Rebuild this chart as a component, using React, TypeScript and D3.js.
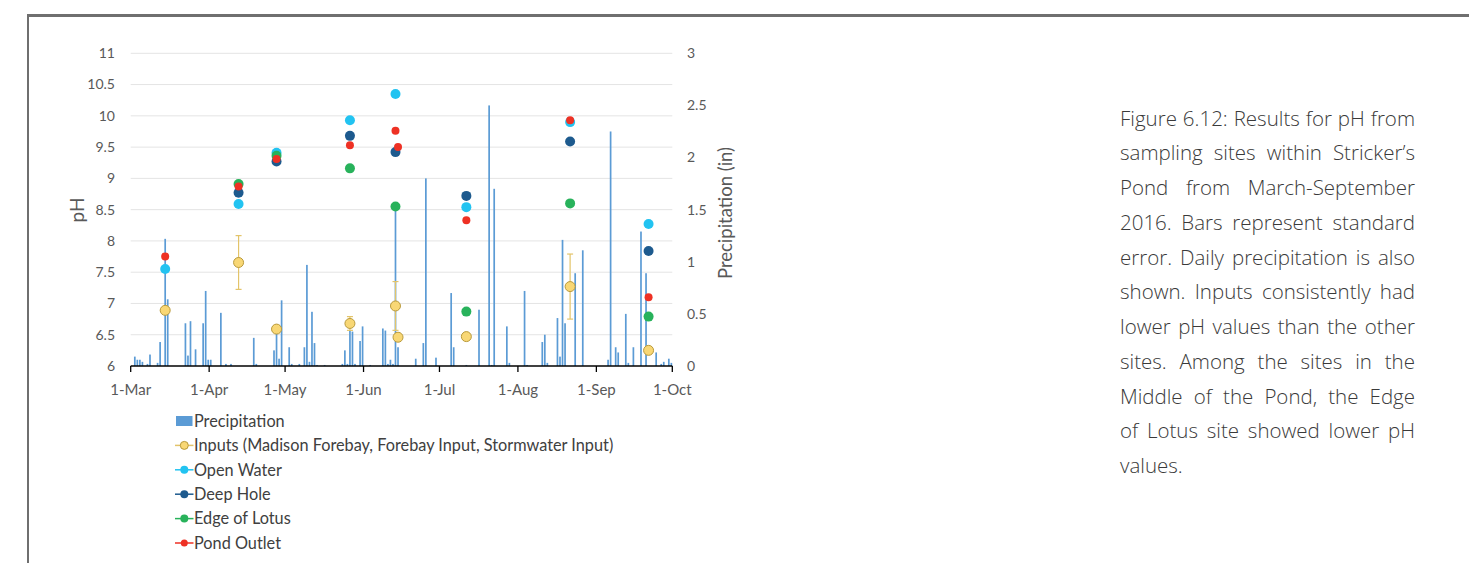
import React from 'react';
import * as d3 from 'd3';

const W = 1469;
const H = 563;

const monthTickDates = ['2016-03-01', '2016-04-01', '2016-05-01', '2016-06-01', '2016-07-01', '2016-08-01', '2016-09-01', '2016-10-01'];
const monthTickLabels = ['1-Mar', '1-Apr', '1-May', '1-Jun', '1-Jul', '1-Aug', '1-Sep', '1-Oct'];
const phTicks = [6, 6.5, 7, 7.5, 8, 8.5, 9, 9.5, 10, 10.5, 11];
const phTickLabels = ['6', '6.5', '7', '7.5', '8', '8.5', '9', '9.5', '10', '10.5', '11'];
const precipTicks = [0, 0.5, 1, 1.5, 2, 2.5, 3];
const precipTickLabels = ['0', '0.5', '1', '1.5', '2', '2.5', '3'];

const precipDates = [
  '2016-03-02', '2016-03-03', '2016-03-04', '2016-03-05', '2016-03-07', '2016-03-08', '2016-03-11', '2016-03-12', '2016-03-14', '2016-03-15',
  '2016-03-22', '2016-03-23', '2016-03-24', '2016-03-26', '2016-03-29', '2016-03-30', '2016-03-31', '2016-04-01', '2016-04-05', '2016-04-07',
  '2016-04-09', '2016-04-18', '2016-04-19', '2016-04-26', '2016-04-27', '2016-04-28', '2016-04-29', '2016-05-02', '2016-05-03', '2016-05-06',
  '2016-05-08', '2016-05-09', '2016-05-10', '2016-05-11', '2016-05-12', '2016-05-13', '2016-05-16', '2016-05-23', '2016-05-24', '2016-05-25',
  '2016-05-26', '2016-05-27', '2016-05-28', '2016-05-30', '2016-05-31', '2016-06-03', '2016-06-08', '2016-06-09', '2016-06-10', '2016-06-11',
  '2016-06-12', '2016-06-13', '2016-06-14', '2016-06-21', '2016-06-24', '2016-06-25', '2016-06-29', '2016-07-05', '2016-07-06', '2016-07-11',
  '2016-07-16', '2016-07-20', '2016-07-21', '2016-07-22', '2016-07-27', '2016-07-28', '2016-08-03', '2016-08-04', '2016-08-10', '2016-08-11',
  '2016-08-12', '2016-08-16', '2016-08-17', '2016-08-18', '2016-08-19', '2016-08-23', '2016-08-26', '2016-09-05', '2016-09-06', '2016-09-08',
  '2016-09-09', '2016-09-12', '2016-09-13', '2016-09-15', '2016-09-18', '2016-09-20', '2016-09-24', '2016-09-26', '2016-09-27', '2016-09-29',
  '2016-09-30',
];
const precipValues = [
  0.09, 0.06, 0.06, 0.04, 0.02, 0.11, 0.03, 0.23, 1.22, 0.64,
  0.41, 0.10, 0.43, 0.16, 0.41, 0.72, 0.06, 0.06, 0.51, 0.02,
  0.02, 0.27, 0.02, 0.15, 0.38, 0.07, 0.63, 0.18, 0.02, 0.02,
  0.18, 0.97, 0.04, 0.52, 0.22, 0.01, 0.01, 0.02, 0.15, 0.02,
  0.34, 0.33, 0.02, 0.24, 0.38, 0.01, 0.36, 0.34, 0.02, 0.06,
  0.02, 1.53, 0.18, 0.07, 0.22, 1.80, 0.08, 0.70, 0.18, 0.01,
  0.54, 2.50, 0.01, 1.70, 0.38, 0.03, 0.72, 0.01, 0.23, 0.30,
  0.03, 0.46, 0.09, 1.21, 0.41, 0.89, 1.11, 0.06, 2.25, 0.18,
  0.13, 0.50, 0.03, 0.18, 1.29, 0.89, 0.13, 0.02, 0.04, 0.07,
  0.03,
];

const sampleDates = ['2016-03-14', '2016-04-12', '2016-04-27', '2016-05-26', '2016-06-13', '2016-06-14', '2016-07-11', '2016-08-21', '2016-09-21'];
const inputsPH = [6.89, 7.655, 6.59, 6.68, 6.96, 6.46, 6.47, 7.27, 6.25];
const inputsSE = [null, 0.43, null, 0.11, 0.39, null, null, 0.52, null];
const openWaterPH = [7.55, 8.59, 9.41, 9.93, 10.35, null, 8.54, 9.90, 8.27];
const deepHolePH = [null, 8.77, 9.27, 9.68, 9.42, null, 8.72, 9.59, 7.84];
const edgeLotusPH = [null, 8.91, 9.36, 9.16, 8.55, null, 6.87, 8.60, 6.79];
const pondOutletPH = [7.75, 8.87, 9.31, 9.53, 9.76, 9.50, 8.33, 9.93, 7.10];

const captionLines = [
  'Figure 6.12: Results for pH from',
  'sampling sites within Stricker’s',
  'Pond from March-September',
  '2016. Bars represent standard',
  'error. Daily precipitation is also',
  'shown. Inputs consistently had',
  'lower pH values than the other',
  'sites. Among the sites in the',
  'Middle of the Pond, the Edge',
  'of Lotus site showed lower pH',
  'values.',
];

const legendLabels = ['Precipitation', 'Inputs (Madison Forebay, Forebay Input, Stormwater Input)', 'Open Water', 'Deep Hole', 'Edge of Lotus', 'Pond Outlet'];

const C = {
  bar: '#5b9bd5',
  inputFill: '#f8d775',
  inputStroke: '#b99a3c',
  inputErr: '#e3c46a',
  open: '#22c3f1',
  deep: '#1d5a8e',
  edge: '#28b25b',
  outlet: '#ee3124',
  grid: '#e4e4e4',
  label: '#595959',
  text: '#404040',
};

const parse = d3.utcParse('%Y-%m-%d');
const AX_FONT = 'Lato, "Open Sans", sans-serif';
const CAP_FONT = '"Open Sans", Lato, sans-serif';
const CAP_WEIGHT = 300;
const CAP_WIDTH = 295;

let _ctx: CanvasRenderingContext2D | null = null;
function measure(text: string, font: string) {
  if (!_ctx) _ctx = document.createElement('canvas').getContext('2d');
  _ctx!.font = font;
  return _ctx!.measureText(text).width;
}

function JustifiedLine({ text, x, y, width, justify, size }: any) {
  const fontStr = `${CAP_WEIGHT} ${size}px ${CAP_FONT}`;
  const words = text.split(' ');
  if (!justify || words.length < 2) {
    return (
      <text x={x} y={y} fontFamily={CAP_FONT} fontSize={size} fontWeight={CAP_WEIGHT} fill="#3a3a3a">{text}</text>
    );
  }
  const widths = words.map((w: string) => measure(w, fontStr));
  const total = widths.reduce((a: number, b: number) => a + b, 0);
  const gap = (width - total) / (words.length - 1);
  let cx = x;
  const out: any[] = [];
  words.forEach((w: string, i: number) => {
    out.push(
      <text key={i} x={cx} y={y} fontFamily={CAP_FONT} fontSize={size} fontWeight={CAP_WEIGHT} fill="#3a3a3a">{w}</text>
    );
    cx += widths[i] + gap;
  });
  return <g>{out}</g>;
}

export default function App() {
  const x = d3.scaleUtc().domain([parse('2016-03-01')!, parse('2016-10-01')!]).range([130.7, 672.3]);
  const xc = (s: string) => x(d3.utcHour.offset(parse(s)!, 15));
  const yPH = d3.scaleLinear().domain([6, 11]).range([366, 53.3]);
  const yP = d3.scaleLinear().domain([0, 3]).range([366, 53.3]);

  const series = [
    { vals: openWaterPH, color: C.open, r: 5 },
    { vals: deepHolePH, color: C.deep, r: 5 },
    { vals: edgeLotusPH, color: C.edge, r: 5 },
    { vals: pondOutletPH, color: C.outlet, r: 4 },
  ];

  const legendX = 176;
  const legendY0 = 421;
  const legendDy = 24.4;
  const legendMarkers = [
    { color: C.inputFill, stroke: C.inputStroke, r: 4, line: C.inputErr },
    { color: C.open, stroke: 'none', r: 4, line: C.open },
    { color: C.deep, stroke: 'none', r: 4, line: C.deep },
    { color: C.edge, stroke: 'none', r: 4, line: C.edge },
    { color: C.outlet, stroke: 'none', r: 3.5, line: C.outlet },
  ];

  // font size chosen so the widest justified line fits the column with normal spacing
  const capSize = Math.min(
    20.5,
    ...captionLines.slice(0, -1).map((l) => (CAP_WIDTH - 2) / measure(l, `${CAP_WEIGHT} 1px ${CAP_FONT}`) / 1)
  );

  return (
    <svg width={W} height={H} style={{ position: 'absolute', left: 0, top: 0, background: '#fff' }}>
      {/* frame */}
      <line x1={28} y1={15.5} x2={W} y2={15.5} stroke="#6f6f6f" strokeWidth={3} />
      <line x1={28} y1={14} x2={28} y2={H} stroke="#6f6f6f" strokeWidth={2} />

      {/* grid */}
      {phTicks.filter((t) => t > 6).map((t) => (
        <line key={t} x1={130.7} x2={672.3} y1={yPH(t)} y2={yPH(t)} stroke={C.grid} strokeWidth={1} />
      ))}

      {/* precipitation bars */}
      {precipDates.map((d, i) => (
        <rect key={d} x={xc(d) - 0.85} width={1.7} y={yP(precipValues[i])} height={yP(0) - yP(precipValues[i])} fill={C.bar} />
      ))}

      {/* x axis */}
      <line x1={130.7} x2={672.3} y1={366} y2={366} stroke="#000" strokeWidth={1.3} />
      {monthTickDates.map((d, i) => {
        const tx = x(parse(d)!);
        return (
          <g key={d}>
            <line x1={tx} x2={tx} y1={366} y2={372} stroke="#000" strokeWidth={1.3} />
            <text x={tx} y={394.5} textAnchor="middle" fontFamily={AX_FONT} fontSize={15} fill={C.label}>{monthTickLabels[i]}</text>
          </g>
        );
      })}

      {/* left axis labels */}
      {phTicks.map((t, i) => (
        <text key={t} x={115} y={yPH(t)} dy="0.35em" textAnchor="end" fontFamily={AX_FONT} fontSize={14} fill={C.label}>{phTickLabels[i]}</text>
      ))}
      {/* right axis labels */}
      {precipTicks.map((t, i) => (
        <text key={t} x={687} y={yP(t)} dy="0.35em" textAnchor="start" fontFamily={AX_FONT} fontSize={14} fill={C.label}>{precipTickLabels[i]}</text>
      ))}
      <text transform={`translate(84,${210}) rotate(-90)`} textAnchor="middle" fontFamily={AX_FONT} fontSize={19} fill={C.label}>pH</text>
      <text transform={`translate(732,${213}) rotate(-90)`} textAnchor="middle" fontFamily={AX_FONT} fontSize={18.5} fill={C.label}>Precipitation (in)</text>

      {/* input error bars */}
      {sampleDates.map((d, i) => {
        const se = inputsSE[i];
        if (se == null) return null;
        const cx = xc(d);
        const v = inputsPH[i];
        return (
          <g key={'e' + d} stroke={C.inputErr} strokeWidth={1.2}>
            <line x1={cx} x2={cx} y1={yPH(v + se)} y2={yPH(v - se)} />
            <line x1={cx - 3} x2={cx + 3} y1={yPH(v + se)} y2={yPH(v + se)} />
            <line x1={cx - 3} x2={cx + 3} y1={yPH(v - se)} y2={yPH(v - se)} />
          </g>
        );
      })}
      {/* inputs points */}
      {sampleDates.map((d, i) => (
        <circle key={'in' + d} cx={xc(d)} cy={yPH(inputsPH[i])} r={5} fill={C.inputFill} stroke={C.inputStroke} strokeWidth={1} />
      ))}
      {/* other series */}
      {series.map((s, si) => (
        <g key={si}>
          {sampleDates.map((d, i) => {
            const v = s.vals[i];
            if (v == null) return null;
            return <circle key={d} cx={xc(d)} cy={yPH(v)} r={s.r} fill={s.color} />;
          })}
        </g>
      ))}

      {/* legend */}
      <rect x={legendX} y={legendY0 - 5} width={16.5} height={10} fill={C.bar} />
      <text x={194} y={legendY0} dy="0.35em" fontFamily={AX_FONT} fontSize={16.3} fill={C.text}>{legendLabels[0]}</text>
      {legendMarkers.map((m, i) => {
        const ly = legendY0 + legendDy * (i + 1);
        return (
          <g key={i}>
            <line x1={legendX - 1} x2={legendX + 17.5} y1={ly} y2={ly} stroke={m.line} strokeWidth={1.5} />
            <circle cx={legendX + 8.3} cy={ly} r={m.r} fill={m.color} stroke={m.stroke} strokeWidth={1} />
            <text x={194} y={ly} dy="0.35em" fontFamily={AX_FONT} fontSize={16.3} fill={C.text}>{legendLabels[i + 1]}</text>
          </g>
        );
      })}

      {/* caption */}
      {captionLines.map((line, i) => (
        <JustifiedLine key={i} text={line} x={1120} y={125.5 + i * 34.75} width={CAP_WIDTH}
          justify={i < captionLines.length - 1} size={capSize} />
      ))}
    </svg>
  );
}
